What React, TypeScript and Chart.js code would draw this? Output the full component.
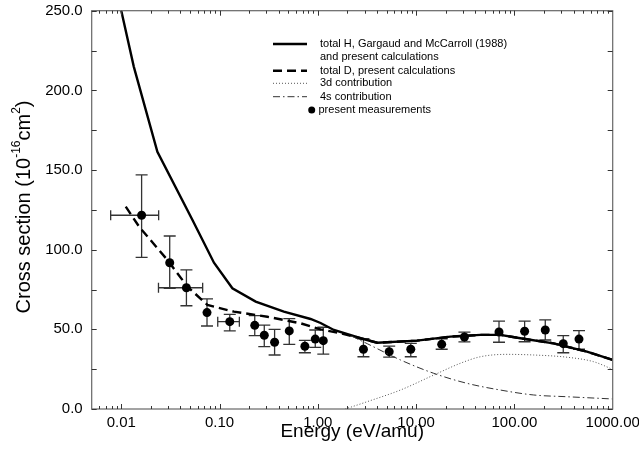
import React, { useEffect, useRef } from 'react';
import { Chart, registerables } from 'chart.js';

Chart.register(...registerables);

const FONT = '"Liberation Sans", Arial, Helvetica, sans-serif';

const xTickValues = [0.01, 0.1, 1, 10, 100, 1000];
const yTickValues = [0, 50, 100, 150, 200, 250];
const yMinorTickValues = [25, 75, 125, 175, 225];

const legendLabels = [
  'total H, Gargaud and McCarroll (1988)',
  'and present calculations',
  'total D, present calculations',
  '3d contribution',
  '4s contribution',
  'present measurements',
];

const totalHEnergy = [0.01, 0.0134, 0.0233, 0.053, 0.0877, 0.135, 0.233, 0.451, 0.843, 1.065, 1.456, 2.72, 4.02, 10.2, 22.3, 45.1, 72, 115, 250, 547, 1000];
const totalHValue = [250, 214.9, 161.5, 118.6, 91.8, 75.8, 67.4, 61.1, 56.5, 54.0, 49.6, 44.4, 41.6, 42.9, 45.4, 46.5, 46.5, 44.4, 41.2, 36.0, 30.8];

const totalDEnergy = [0.0111, 0.0152, 0.0295, 0.0471, 0.0752, 0.14, 0.306, 0.667, 1.065, 1.7, 2.72, 4.02, 10.2, 22.3, 45.1, 72, 115, 250, 547, 1000];
const totalDValue = [127.0, 114.4, 93.5, 76.8, 65.3, 61.1, 57.9, 53.8, 50.0, 47.5, 44.4, 41.6, 42.9, 45.4, 46.5, 46.5, 44.4, 41.2, 36.0, 30.8];

const d3Energy = [1.9, 3.18, 6.92, 15.1, 28.2, 45.1, 84.1, 157, 343, 638, 1000];
const d3Value = [0, 4.6, 11.9, 21.3, 28.7, 32.8, 34.3, 33.9, 32.5, 29.7, 24.9];

const s4Energy = [2.2, 3.18, 6.92, 15.1, 33.0, 72, 157, 343, 1000];
const s4Value = [45.8, 41.0, 30.8, 22.4, 16.1, 11.9, 8.8, 7.7, 6.3];

const measEnergy = [0.0161, 0.0311, 0.046, 0.0745, 0.127, 0.228, 0.285, 0.363, 0.512, 0.738, 0.941, 1.136, 2.91, 5.32, 8.82, 18.2, 31.0, 69.7, 127, 206, 314, 454];
const measValue = [121.6, 91.8, 76.1, 60.5, 54.8, 52.5, 46.3, 41.9, 49.0, 39.4, 43.9, 42.9, 37.5, 36.0, 37.5, 40.6, 45.2, 48.3, 48.8, 49.6, 41.0, 43.9];
const measErrHigh = [146.9, 108.6, 87.3, 69.1, 59.4, 58.6, 52.7, 50.0, 56.7, 43.1, 49.6, 51.3, 44.1, 39.5, 41.2, 44.1, 48.3, 55.2, 55.2, 55.9, 46.0, 49.2];
const measErrLow = [95.2, 75.8, 64.8, 52.1, 49.0, 46.0, 39.1, 33.9, 40.6, 35.3, 38.7, 34.5, 32.8, 32.5, 32.8, 37.5, 42.1, 41.9, 42.2, 43.3, 35.3, 37.5];
const measEnergyLow: (number | null)[] = [0.0078, null, 0.0239, null, 0.0958, null, null, null, null, null, null, null, null, null, null, null, null, null, null, null, null, null];
const measEnergyHigh: (number | null)[] = [0.024, null, 0.0673, null, 0.159, null, null, null, null, null, null, null, null, null, null, null, null, null, null, null, null, null];

const STYLE_H = { color: '#000', width: 2.4, dash: [] as number[] };
const STYLE_D = { color: '#000', width: 2.4, dash: [9, 5] };
const STYLE_3D = { color: '#555', width: 1, dash: [1, 2] };
const STYLE_4S = { color: '#333', width: 1, dash: [7, 3, 1.5, 3] };

const pts = (xs: number[], ys: number[]) => xs.map((x, i) => ({ x, y: ys[i] }));

const errorBarPlugin = {
  id: 'errorBars',
  beforeDatasetsDraw(chart: any) {
    const { ctx, chartArea, scales } = chart;
    const x = scales.x, y = scales.y;
    ctx.save();
    ctx.beginPath();
    ctx.rect(chartArea.left, chartArea.top, chartArea.right - chartArea.left, chartArea.bottom - chartArea.top);
    ctx.clip();
    ctx.strokeStyle = '#333';
    ctx.lineWidth = 1.3;
    ctx.setLineDash([]);
    measEnergy.forEach((e, i) => {
      const px = x.getPixelForValue(e);
      const py = y.getPixelForValue(measValue[i]);
      const pyH = y.getPixelForValue(measErrHigh[i]);
      const pyL = y.getPixelForValue(measErrLow[i]);
      ctx.beginPath();
      ctx.moveTo(px, pyH); ctx.lineTo(px, pyL);
      ctx.moveTo(px - 6, pyH); ctx.lineTo(px + 6, pyH);
      ctx.moveTo(px - 6, pyL); ctx.lineTo(px + 6, pyL);
      const lo = measEnergyLow[i], hi = measEnergyHigh[i];
      if (lo != null && hi != null) {
        const pxL = x.getPixelForValue(lo);
        const pxH = x.getPixelForValue(hi);
        ctx.moveTo(pxL, py); ctx.lineTo(pxH, py);
        ctx.moveTo(pxL, py - 5); ctx.lineTo(pxL, py + 5);
        ctx.moveTo(pxH, py - 5); ctx.lineTo(pxH, py + 5);
      }
      ctx.stroke();
    });
    ctx.restore();
  },
};

const framePlugin = {
  id: 'frame',
  afterDatasetsDraw(chart: any) {
    const { ctx, chartArea, scales } = chart;
    const { left, right, top, bottom } = chartArea;
    const x = scales.x, y = scales.y;
    ctx.save();
    ctx.setLineDash([]);
    ctx.strokeStyle = '#666';
    ctx.lineWidth = 1.2;
    ctx.strokeRect(left, top, right - left, bottom - top);
    ctx.lineWidth = 1;
    ctx.strokeStyle = '#333';
    ctx.beginPath();
    for (let e = -3; e <= 2; e++) {
      for (let m = 1; m <= 9; m++) {
        const v = m * Math.pow(10, e);
        if (v <= x.min * 1.0001 || v > x.max * 1.0001) continue;
        const px = Math.round(x.getPixelForValue(v)) + 0.5;
        const len = m === 1 ? 5 : 3;
        ctx.moveTo(px, bottom); ctx.lineTo(px, bottom - len);
        ctx.moveTo(px, top); ctx.lineTo(px, top + len);
      }
    }
    yTickValues.concat(yMinorTickValues).forEach((v) => {
      const py = Math.round(y.getPixelForValue(v)) + 0.5;
      ctx.moveTo(left, py); ctx.lineTo(left + 5, py);
      ctx.moveTo(right, py); ctx.lineTo(right - 5, py);
    });
    ctx.stroke();
    ctx.restore();
  },
};

const titlePlugin = {
  id: 'yTitle',
  afterDraw(chart: any) {
    const { ctx } = chart;
    ctx.save();
    ctx.translate(24.5, 207);
    ctx.rotate(-Math.PI / 2);
    ctx.fillStyle = '#000';
    ctx.textBaseline = 'middle';
    ctx.textAlign = 'left';
    const parts = [
      { t: 'Cross section (10', sup: false },
      { t: '-16', sup: true },
      { t: 'cm', sup: false },
      { t: '2', sup: true },
      { t: ')', sup: false },
    ];
    const big = `20px ${FONT}`;
    const small = `12px ${FONT}`;
    let total = 0;
    parts.forEach((p) => { ctx.font = p.sup ? small : big; total += ctx.measureText(p.t).width; });
    let cx = -total / 2;
    parts.forEach((p) => {
      ctx.font = p.sup ? small : big;
      ctx.fillText(p.t, cx, p.sup ? -8 : 0);
      cx += ctx.measureText(p.t).width;
    });
    ctx.restore();
  },
};

const legendPlugin = {
  id: 'customLegend',
  afterDraw(chart: any) {
    const { ctx } = chart;
    ctx.save();
    ctx.font = `11px ${FONT}`;
    ctx.fillStyle = '#000';
    ctx.textBaseline = 'middle';
    ctx.textAlign = 'left';
    const x0 = 273, x1 = 307, tx = 320;
    const rows = [44, 57.3, 70.7, 83.3, 96.7, 110];
    const sample = (s: { color: string; width: number; dash: number[] }, yy: number) => {
      ctx.save();
      ctx.strokeStyle = s.color;
      ctx.lineWidth = s.width;
      ctx.setLineDash(s.dash);
      ctx.beginPath();
      ctx.moveTo(x0, yy); ctx.lineTo(x1, yy);
      ctx.stroke();
      ctx.restore();
    };
    sample(STYLE_H, rows[0]);
    sample(STYLE_D, rows[2]);
    sample(STYLE_3D, rows[3]);
    sample(STYLE_4S, rows[4]);
    ctx.beginPath();
    ctx.arc(311.7, rows[5], 3.5, 0, Math.PI * 2);
    ctx.fill();
    legendLabels.forEach((l, i) => {
      ctx.fillText(l, i === 5 ? 318.5 : tx, rows[i]);
    });
    ctx.restore();
  },
};

const lineDs = (label: string, xs: number[], ys: number[], s: { color: string; width: number; dash: number[] }, mono: boolean) => ({
  label,
  data: pts(xs, ys),
  showLine: true,
  borderColor: s.color,
  borderWidth: s.width,
  borderDash: s.dash,
  pointRadius: 0,
  fill: false,
  tension: 0,
  cubicInterpolationMode: mono ? 'monotone' : 'default',
});

export default function App() {
  const ref = useRef<HTMLCanvasElement>(null);
  useEffect(() => {
    const chart = new Chart(ref.current as HTMLCanvasElement, {
      type: 'scatter',
      data: {
        datasets: [
          lineDs('3d contribution', d3Energy, d3Value, STYLE_3D, true) as any,
          lineDs('4s contribution', s4Energy, s4Value, STYLE_4S, true) as any,
          lineDs('total D, present calculations', totalDEnergy, totalDValue, STYLE_D, false) as any,
          lineDs('total H, Gargaud and McCarroll (1988) and present calculations', totalHEnergy, totalHValue, STYLE_H, false) as any,
          {
            label: 'present measurements',
            data: pts(measEnergy, measValue),
            showLine: false,
            pointRadius: 4.5,
            pointBackgroundColor: '#000',
            pointBorderWidth: 0,
            pointBorderColor: '#000',
          } as any,
        ],
      },
      options: {
        responsive: false,
        animation: false,
        devicePixelRatio: 1,
        layout: { padding: { top: 10.7, right: 26.3, left: 0, bottom: 0 } },
        plugins: { legend: { display: false }, tooltip: { enabled: false } },
        scales: {
          x: {
            type: 'logarithmic',
            min: 0.005,
            max: 1000,
            grid: { display: false, drawTicks: false },
            border: { display: false },
            afterBuildTicks: (s: any) => { s.ticks = xTickValues.map((v) => ({ value: v })); },
            afterFit: (s: any) => { s.height = 45; s.paddingRight = 0; s.paddingLeft = 0; },
            ticks: {
              callback: (v: any) => Number(v).toFixed(2),
              font: { size: 15, family: FONT },
              color: '#000',
              padding: 5,
              maxRotation: 0,
              autoSkip: false,
            },
            title: {
              display: true,
              text: 'Energy (eV/amu)',
              font: { size: 19, family: FONT },
              color: '#000',
              padding: { top: 0, bottom: 11 },
            },
          } as any,
          y: {
            min: 0,
            max: 250,
            grid: { display: false, drawTicks: false },
            border: { display: false },
            afterBuildTicks: (s: any) => { s.ticks = yTickValues.map((v) => ({ value: v })); },
            afterFit: (s: any) => { s.width = 91.7; s.paddingTop = 0; s.paddingBottom = 0; },
            ticks: {
              callback: (v: any) => Number(v).toFixed(1),
              font: { size: 15, family: FONT },
              color: '#000',
              padding: 9,
            },
          } as any,
        },
      },
      plugins: [errorBarPlugin, framePlugin, titlePlugin, legendPlugin],
    });
    return () => chart.destroy();
  }, []);
  return (
    <div style={{ position: 'absolute', left: 0, top: 0, width: 639, height: 454, background: '#fff' }}>
      <canvas ref={ref} width={639} height={454} style={{ display: 'block' }} />
    </div>
  );
}
